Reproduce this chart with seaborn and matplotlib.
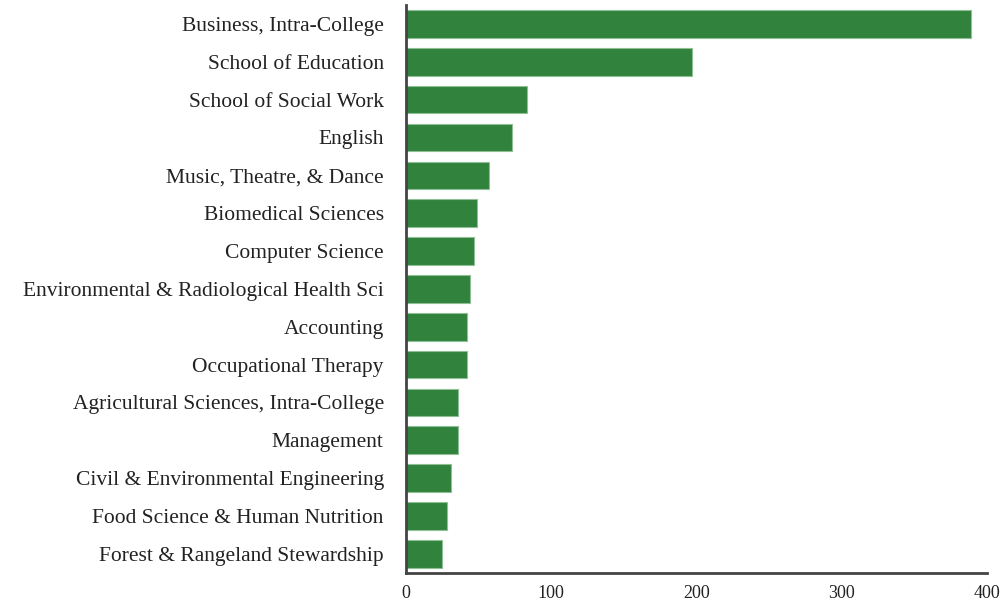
import pandas as pd
import matplotlib
matplotlib.use("Agg")
import matplotlib.pyplot as plt
import seaborn as sns

# -------------------------------
# Data
# -------------------------------
departments = [
    "Business, Intra-College",
    "School of Education",
    "School of Social Work",
    "English",
    "Music, Theatre, & Dance",
    "Biomedical Sciences",
    "Computer Science",
    "Environmental & Radiological Health Sci",
    "Accounting",
    "Occupational Therapy",
    "Agricultural Sciences, Intra-College",
    "Management",
    "Civil & Environmental Engineering",
    "Food Science & Human Nutrition",
    "Forest & Rangeland Stewardship",
]
counts = [389, 197, 83, 73, 57, 49, 47, 44, 42, 42, 36, 36, 31, 28, 25]
x_ticks = [0, 100, 200, 300, 400]

df = pd.DataFrame({"Department": departments, "Count": counts})

# -------------------------------
# Plot
# -------------------------------
sns.set_style("white")
plt.rcParams["font.family"] = ["Liberation Serif", "DejaVu Serif"]

fig = plt.figure(figsize=(10.04, 6.06), dpi=100)
ax = fig.add_axes([0.4044, 0.055, 0.5786, 0.9367])

sns.barplot(
    data=df, x="Count", y="Department", orient="h",
    color="#30823C", saturation=1, width=0.73,
    edgecolor="#8fbf95", linewidth=0.8, ax=ax,
)

ax.set_xlim(0, 400)
ax.set_ylim(14.5, -0.5)
ax.set_xticks(x_ticks)
ax.set_xlabel("")
ax.set_ylabel("")
ax.tick_params(axis="y", length=0, pad=16, labelsize=15.5, colors="#222222")
ax.tick_params(axis="x", length=0, pad=9, labelsize=13, colors="#222222")

for side in ["top", "right"]:
    ax.spines[side].set_visible(False)
for side in ["left", "bottom"]:
    ax.spines[side].set_color("#444444")
    ax.spines[side].set_linewidth(2)

plt.savefig("out.png", dpi=100)
